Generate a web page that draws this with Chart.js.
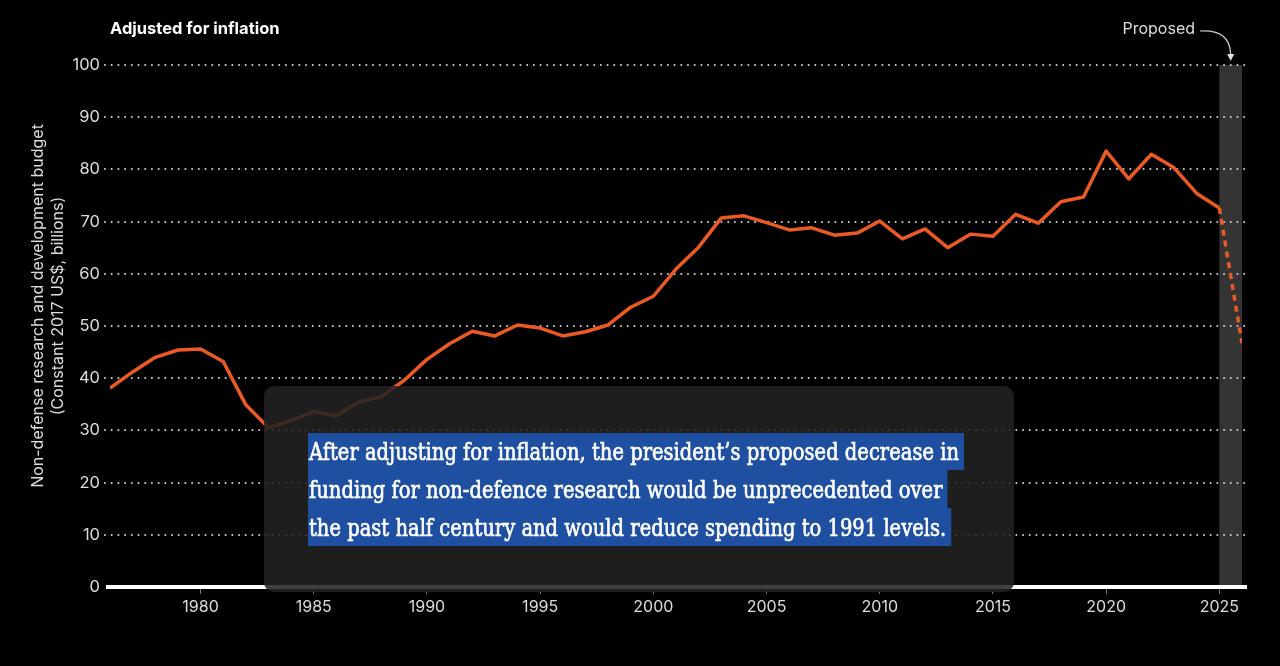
<!DOCTYPE html>
<html>
<head>
<meta charset="utf-8">
<script src="https://cdn.jsdelivr.net/npm/chart.js@4.4.1/dist/chart.umd.min.js"></script>
<style>
  html, body { margin: 0; padding: 0; background: #000; }
  #wrap { width: 1280px; height: 666px; position: relative; }
</style>
</head>
<body>
<div id="wrap"><canvas id="c" width="1280" height="666"></canvas></div>
<script>
// ---- data ----
const years = [1976,1977,1978,1979,1980,1981,1982,1983,1984,1985,1986,1987,1988,1989,1990,
  1991,1992,1993,1994,1995,1996,1997,1998,1999,2000,2001,2002,2003,2004,2005,2006,2007,2008,
  2009,2010,2011,2012,2013,2014,2015,2016,2017,2018,2019,2020,2021,2022,2023,2024,2025,2026];
const budget = [38.1,41.2,44.0,45.4,45.6,43.2,34.9,30.5,31.9,33.6,32.8,35.5,36.5,39.6,43.6,
  46.6,49.0,48.1,50.2,49.6,48.1,48.9,50.2,53.6,55.7,60.9,65.1,70.7,71.1,69.8,68.4,68.8,67.4,
  67.8,70.1,66.7,68.6,65.0,67.6,67.2,71.4,69.7,73.8,74.7,83.5,78.2,82.9,80.3,75.4,72.6,46.7];
const yTicks = [0,10,20,30,40,50,60,70,80,90,100];
const xTicks = [1980,1985,1990,1995,2000,2005,2010,2015,2020,2025];
const proposedRange = [2025, 2026];
const chartTitle = 'Adjusted for inflation';
const proposedLabel = 'Proposed';
const yTitleLines = ['Non-defense research and development budget', '(Constant 2017 US$, billions)'];
const noteLines = [
  'After adjusting for inflation, the president\u2019s proposed decrease in',
  'funding for non-defence research would be unprecedented over',
  'the past half century and would reduce spending to 1991 levels.'
];

const SANS = 'Inter, "Noto Sans", sans-serif';

function roundRectPath(ctx, x, y, w, h, r) {
  ctx.beginPath();
  ctx.moveTo(x + r, y);
  ctx.lineTo(x + w - r, y);
  ctx.arcTo(x + w, y, x + w, y + r, r);
  ctx.lineTo(x + w, y + h - r);
  ctx.arcTo(x + w, y + h, x + w - r, y + h, r);
  ctx.lineTo(x + r, y + h);
  ctx.arcTo(x, y + h, x, y + h - r, r);
  ctx.lineTo(x, y + r);
  ctx.arcTo(x, y, x + r, y, r);
  ctx.closePath();
}

const deco = {
  id: 'deco',
  beforeDatasetsDraw(chart) {
    const { ctx, chartArea: a, scales: { x, y } } = chart;
    ctx.save();
    // proposed band
    const bx0 = x.getPixelForValue(proposedRange[0]);
    const bx1 = x.getPixelForValue(proposedRange[1]);
    const byTop = y.getPixelForValue(yTicks[yTicks.length - 1]);
    const byBot = y.getPixelForValue(0);
    ctx.fillStyle = '#343434';
    ctx.fillRect(bx0, byTop, bx1 - bx0, byBot - byTop);
    // dotted gridlines
    ctx.strokeStyle = '#d4d4d4';
    ctx.lineWidth = 2;
    ctx.lineCap = 'round';
    ctx.setLineDash([0.001, 6.7]);
    yTicks.forEach(v => {
      if (v === 0) return;
      const py = Math.round(y.getPixelForValue(v));
      ctx.beginPath();
      ctx.moveTo(a.left - 5, py);
      ctx.lineTo(a.right + 5, py);
      ctx.stroke();
    });
    // zero baseline
    ctx.setLineDash([]);
    ctx.lineCap = 'butt';
    ctx.strokeStyle = '#ffffff';
    ctx.lineWidth = 4;
    const p0 = y.getPixelForValue(0);
    ctx.beginPath();
    ctx.moveTo(a.left - 4, p0);
    ctx.lineTo(a.right + 5, p0);
    ctx.stroke();
    ctx.restore();
  },
  afterDraw(chart) {
    const { ctx, scales: { x, y } } = chart;
    ctx.save();
    // title
    ctx.fillStyle = '#ffffff';
    ctx.font = 'bold 16.5px ' + SANS;
    ctx.textAlign = 'left';
    ctx.textBaseline = 'middle';
    ctx.fillText(chartTitle, 110, 29);

    // proposed label + arrow
    ctx.fillStyle = '#dddddd';
    ctx.font = '16px ' + SANS;
    ctx.textAlign = 'right';
    ctx.fillText(proposedLabel, 1195, 29);
    const ax = (x.getPixelForValue(proposedRange[0]) + x.getPixelForValue(proposedRange[1])) / 2;
    ctx.strokeStyle = '#cccccc';
    ctx.lineWidth = 1.2;
    ctx.beginPath();
    ctx.moveTo(1200, 31);
    ctx.quadraticCurveTo(ax - 1, 29, ax, 54);
    ctx.stroke();
    ctx.fillStyle = '#dddddd';
    ctx.beginPath();
    ctx.moveTo(ax - 3.5, 54);
    ctx.lineTo(ax + 3.5, 54);
    ctx.lineTo(ax, 61);
    ctx.closePath();
    ctx.fill();

    // y-axis title
    ctx.fillStyle = '#dddddd';
    ctx.font = '16px ' + SANS;
    ctx.textAlign = 'center';
    ctx.textBaseline = 'middle';
    [38, 58].forEach((cx, i) => {
      ctx.save();
      ctx.translate(cx, 306);
      ctx.rotate(-Math.PI / 2);
      ctx.fillText(yTitleLines[i], 0, 0);
      ctx.restore();
    });

    // annotation box
    roundRectPath(ctx, 264, 386, 750, 206, 10);
    ctx.fillStyle = 'rgba(34,34,34,0.87)';
    ctx.fill();

    ctx.font = '25px "DejaVu Serif", "Liberation Serif", serif';
    ctx.textAlign = 'left';
    ctx.textBaseline = 'alphabetic';
    const sx = 650 / ctx.measureText(noteLines[0]).width;
    const tops = [433, 470, 508];
    const bots = [470, 508, 546];
    const bases = [460, 498, 536];
    noteLines.forEach((line, i) => {
      const w = ctx.measureText(line).width * sx;
      ctx.fillStyle = '#1e4fa0';
      ctx.fillRect(308, tops[i], w + 6, bots[i] - tops[i]);
      ctx.fillStyle = '#ffffff';
      ctx.strokeStyle = '#ffffff';
      ctx.lineWidth = 0.7;
      ctx.save();
      ctx.translate(309, bases[i]);
      ctx.scale(sx, 1);
      ctx.fillText(line, 0, 0);
      ctx.strokeText(line, 0, 0);
      ctx.restore();
    });
    ctx.restore();
  }
};

new Chart(document.getElementById('c'), {
  type: 'line',
  data: {
    datasets: [{
      data: years.map((yr, i) => ({ x: yr, y: budget[i] })),
      borderColor: '#ec5a24',
      borderWidth: 3.5,
      pointRadius: 0,
      borderJoinStyle: 'round',
      borderCapStyle: 'butt',
      tension: 0,
      segment: {
        borderDash: c => (c.p0.parsed.x >= proposedRange[0] ? [6, 5] : undefined)
      }
    }]
  },
  options: {
    responsive: false,
    animation: false,
    layout: { padding: { top: 65, right: 38, left: 0, bottom: 0 } },
    plugins: { legend: { display: false }, tooltip: { enabled: false } },
    scales: {
      x: {
        type: 'linear',
        min: 1976,
        max: 2026,
        afterBuildTicks: s => { s.ticks = xTicks.map(v => ({ value: v })); },
        afterFit: s => { s.height = 79; },
        grid: { display: true, drawOnChartArea: false, drawTicks: true, tickLength: 7, tickColor: '#777', tickWidth: 1 },
        border: { display: false },
        ticks: { color: '#dddddd', font: { family: SANS, size: 16 }, padding: 4, maxRotation: 0, autoSkip: false, callback: v => String(v) }
      },
      y: {
        min: 0,
        max: 100,
        afterBuildTicks: s => { s.ticks = yTicks.map(v => ({ value: v })); },
        afterFit: s => { s.width = 110; },
        grid: { display: false, drawTicks: false },
        border: { display: false },
        ticks: { color: '#dddddd', font: { family: SANS, size: 16.5 }, padding: 10 }
      }
    }
  },
  plugins: [deco]
});
</script>
</body>
</html>
